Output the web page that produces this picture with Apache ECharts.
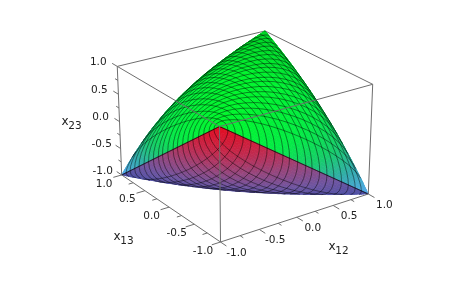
<!DOCTYPE html>
<html><head><meta charset="utf-8">
<style>html,body{margin:0;padding:0;background:#fff}#c{width:454px;height:302px;filter:blur(.3px)}</style>
<script src="https://cdn.jsdelivr.net/npm/echarts@6/dist/echarts.min.js"></script>
</head><body><div id="c"></div>
<script>
// Surface coordinate table: one quarter of the value ladder shared by x12, x13 and x23
const ladderValues = [1,.99976,.99905,.99786,.99619,.99406,.99144,.98836,.98481,.98079,.9763,.97134,.96593,.96005,.95372,.94693,.93969,.93201,.92388,.91531,.90631,.89687,.88701,.87673,.86603,.85491,.84339,.83147,.81915,.80644,.79335,.77988,.76604,.75184,.73728,.72236,.70711,.69151,.67559,.65935,.64279,.62592,.60876,.59131,.57358,.55557,.5373,.51877,.5,.48099,.46175,.44229,.42262,.40279,.38268,.36244,.34202,.32144,.30071,.27983,.25882,.23769,.21644,.19509,.17365,.15212,.13053,.10887,.08716,.0654,.04362,.02181,0];
// Ladder rungs where the drawn mesh lines sit (x = 1.0, 0.9, ... -1.0)
const meshRungs = [0,21,29,36,42,48,53,58,63,67,72,77,81,86,91,96,102,108,115,123,144];
const tickValues = [-1,-0.5,0,0.5,1];
const minorTickValues = [-0.75,-0.25,0.25,0.75];
const tickLabels = ['-1.0','-0.5','0.0','0.5','1.0'];
const axisTitles = ['x','x','x'];
const axisSubscripts = ['12','13','23'];
const titleSpots = [[332,246.5],[117,236.5],[65,122]];

const rung = n => n>144 ? rung(288-n) : n>72 ? -ladderValues[144-n] : ladderValues[n];
const nodeZ = (s,a,b) => s===0 ? rung(Math.abs(a-b)) : rung(a+b);
const node = (s,a,b) => [rung(a),rung(b),nodeZ(s,a,b)];

const cam = [[172.47,-88.55,-9.16,220.5],[-35.0,-52.3,-120.2,242],[.067,.0842,-.03717,1]];
function proj(p){const a=(p[0]+1)/2,b=(p[1]+1)/2,c=(p[2]+1)/2;
  const h=cam.map(r=>r[0]*a+r[1]*b+r[2]*c+r[3]);return [h[0]/h[2],h[1]/h[2]];}
// the body is convex, so a facet is visible exactly when it faces the camera
function faces(s,a,b,da,db){
  const o=proj(node(s,a,b)),p=proj(node(s,a+da,b)),q=proj(node(s,a,b+db));
  const cr=((p[0]-o[0])*(q[1]-o[1])-(p[1]-o[1])*(q[0]-o[0]))*Math.sign(da)*Math.sign(db);
  return s===0 ? cr<0 : cr>0;
}

const upperRamp = [[-1,[88,170,240]],[-.55,[52,170,175]],[-.1,[22,205,105]],[.35,[5,235,70]],[1,[0,245,45]]];
const lowerRamp = [[-1,[72,78,165]],[-.55,[110,85,160]],[-.1,[150,70,125]],[.4,[195,40,75]],[1,[228,10,30]]];
function ramp(r,z,dim){for(let k=1;k<r.length;k++){if(z<=r[k][0]){const t=(z-r[k-1][0])/(r[k][0]-r[k-1][0]);
  const c=r[k-1][1].map((v,n)=>Math.round((v+(r[k][1][n]-v)*t)*dim));return `rgb(${c})`;}}return `rgb(${r[r.length-1][1].map(v=>Math.round(v*dim))})`;}

const fillStep=3;
const meshStep=6;
const cells=[];
for(let s=0;s<2;s++)for(let a=0;a<144;a+=fillStep)for(let b=0;b<144;b+=fillStep){
  if(faces(s,a,b,fillStep,fillStep))cells.push([s,a,b]);
}
const meshSegs=[];
for(let s=0;s<2;s++)meshRungs.forEach(r=>{
  const dr=r<144?1:-1;
  for(let m=0;m<144;m+=meshStep){
    if(faces(s,r,m,dr,meshStep))meshSegs.push([s,r,m,r,m+meshStep]);
    if(faces(s,m,r,meshStep,dr))meshSegs.push([s,m,r,m+meshStep,r]);
  }
});

function renderCell(params,api){
  const s=api.value(0),a=api.value(1),b=api.value(2),st=fillStep;
  const q=[[a,b],[a+st,b],[a+st,b+st],[a,b+st]];
  const mean=q.reduce((t,n)=>t+nodeZ(s,n[0],n[1]),0)/4;
  const far=(rung(a)+rung(b))/2;
  const dim=s===0?1-.14*Math.max(0,far):1;
  const col=ramp(s===0?upperRamp:lowerRamp,mean,dim);
  return {type:'polygon',shape:{points:q.map(n=>api.coord(proj(node(s,n[0],n[1]))))},style:{fill:col,stroke:col,lineWidth:.7}};
}
function renderMesh(params,api){
  const s=api.value(0);
  const p=api.coord(proj(node(s,api.value(1),api.value(2)))),q=api.coord(proj(node(s,api.value(3),api.value(4))));
  return {type:'line',shape:{x1:p[0],y1:p[1],x2:q[0],y2:q[1]},style:{stroke:'rgba(0,0,0,.44)',lineWidth:1}};
}

const lineGrey='#6e6e6e';
const backEdges=[[[1,1,1],[-1,1,1]],[[1,1,1],[1,-1,1]]];
const frontEdges=[
 [[-1,1,1],[-1,-1,1]],[[1,-1,1],[-1,-1,1]],
 [[-1,1,1],[-1,1,-1]],[[1,-1,1],[1,-1,-1]],[[-1,-1,1],[-1,-1,-1]],
 [[-1,-1,-1],[1,-1,-1]],[[-1,-1,-1],[-1,1,-1]]];
const majorLen=.11,minorLen=.06;
const axes=[
 {at:v=>[v,-1,-1],dir:[0,-1,0],off:[16,11]},
 {at:v=>[-1,v,-1],dir:[-1,0,0],off:[-17.5,9]},
 {at:v=>[-1,1,v],dir:[0,1,0],off:[-19,-4.2]}];
const segs=[];
axes.forEach(a=>{
  [[tickValues,majorLen],[minorTickValues,minorLen]].forEach(([vals,len])=>vals.forEach(v=>{
    const p=a.at(v);segs.push([p,[p[0]+a.dir[0]*len,p[1]+a.dir[1]*len,p[2]+a.dir[2]*len]]);}));
});
const allFront=frontEdges.concat(segs);
const renderSeg=list=>(params,api)=>{const e=list[api.value(0)];const a=api.coord(proj(e[0])),b=api.coord(proj(e[1]));
  return {type:'line',shape:{x1:a[0],y1:a[1],x2:b[0],y2:b[1]},style:{stroke:lineGrey,lineWidth:1}};};
const font='"DejaVu Sans"';
const labelItems=[];
axes.forEach((a,n)=>tickValues.forEach((v,k)=>labelItems.push([n,k])));
function renderLabel(params,api){const a=axes[api.value(0)],k=api.value(1);const c=api.coord(proj(a.at(tickValues[k])));
  return {type:'text',x:c[0]+a.off[0],y:c[1]+a.off[1],style:{text:tickLabels[k],fill:'#222',font:'10.5px '+font,align:'center',verticalAlign:'middle'}};}
function renderTitle(params,api){const n=api.value(0);const c=api.coord(titleSpots[n]);
  return {type:'group',children:[
   {type:'text',x:c[0],y:c[1],style:{text:axisTitles[n],fill:'#222',font:'12px '+font,align:'center',verticalAlign:'middle'}},
   {type:'text',x:c[0]+10,y:c[1]+4.5,style:{text:axisSubscripts[n],fill:'#222',font:'10.5px '+font,align:'center',verticalAlign:'middle'}}]};}

const common={type:'custom',silent:true,animation:false,clip:false,coordinateSystem:'cartesian2d',progressive:0};
const chart=echarts.init(document.getElementById('c'),null,{renderer:'canvas'});
chart.setOption({
  backgroundColor:'#fff',animation:false,
  grid:{left:0,right:0,top:0,bottom:0},
  xAxis:{type:'value',min:0,max:454,show:false},
  yAxis:{type:'value',min:0,max:302,inverse:true,show:false},
  series:[
   {...common,renderItem:renderSeg(backEdges),data:backEdges.map((e,i)=>[i])},
   {...common,renderItem:renderCell,data:cells},
   {...common,renderItem:renderMesh,data:meshSegs},
   {...common,renderItem:renderSeg(allFront),data:allFront.map((e,i)=>[i])},
   {...common,renderItem:renderLabel,data:labelItems},
   {...common,renderItem:renderTitle,data:[[0],[1],[2]]}
  ]
});
</script></body></html>
